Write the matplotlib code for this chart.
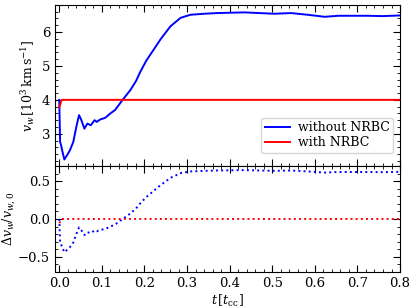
"""Wind velocity with and without non-reflecting boundary conditions."""

import matplotlib.pyplot as plt
import numpy as np
from matplotlib.ticker import MultipleLocator

plt.rcParams["font.family"] = "DejaVu Serif"
plt.rcParams["mathtext.fontset"] = "dejavuserif"
plt.rcParams["font.size"] = 9

# Time in t_cc, velocity in 10^3 km/s
t_without = [0.0, 0.002, 0.004, 0.007, 0.012, 0.018, 0.025, 0.033, 0.040,
             0.0465, 0.052, 0.059, 0.066, 0.074, 0.083, 0.088, 0.096, 0.108,
             0.12, 0.131, 0.147, 0.167, 0.18, 0.19, 0.204, 0.22, 0.238,
             0.261, 0.285, 0.308, 0.34, 0.371, 0.434, 0.505, 0.544, 0.583,
             0.623, 0.655, 0.725, 0.76, 0.80]
v_without = [4.0, 2.76, 2.68, 2.5, 2.24, 2.36, 2.51, 2.76, 3.2,
             3.55, 3.4, 3.15, 3.3, 3.25, 3.4, 3.35, 3.42, 3.47,
             3.6, 3.7, 3.97, 4.29, 4.55, 4.82, 5.15, 5.45, 5.79,
             6.17, 6.42, 6.51, 6.54, 6.56, 6.58, 6.54, 6.56, 6.51,
             6.45, 6.48, 6.48, 6.47, 6.49]
t_with = [0.0, 0.002, 0.005, 0.008, 0.80]
v_with = [3.78, 3.85, 3.99, 4.0, 4.0]
v0 = 4.0

t_without = np.array(t_without)
v_without = np.array(v_without)
t_with = np.array(t_with)
v_with = np.array(v_with)

fig = plt.figure(figsize=(4.15, 3.08), dpi=100)
gs = fig.add_gridspec(2, 1, height_ratios=[161, 106], hspace=0.0,
                      left=0.1325, right=0.964, bottom=0.117, top=0.984)
ax_top = fig.add_subplot(gs[0])
ax_bot = fig.add_subplot(gs[1], sharex=ax_top)

ax_top.plot(t_without, v_without, color="#0000ff", lw=1.4, label="without NRBC")
ax_top.plot(t_with, v_with, color="#ff0000", lw=1.4, label="with NRBC")
ax_bot.plot(t_without, v_without / v0 - 1, color="#0000ff", lw=1.4, ls=":")
ax_bot.plot(t_with, v_with / v0 - 1, color="#ff0000", lw=1.4, ls=":")

ax_top.set_xlim(-0.01, 0.8)
ax_top.set_ylim(2.05, 6.8)
ax_bot.set_ylim(-0.7, 0.7)

ax_top.xaxis.set_major_locator(MultipleLocator(0.1))
ax_top.xaxis.set_minor_locator(MultipleLocator(0.02))
ax_top.yaxis.set_major_locator(MultipleLocator(1))
ax_top.yaxis.set_minor_locator(MultipleLocator(0.2))
ax_bot.yaxis.set_major_locator(MultipleLocator(0.5))
ax_bot.yaxis.set_minor_locator(MultipleLocator(0.1))

for ax in (ax_top, ax_bot):
    ax.tick_params(which="both", direction="in", top=True, right=True,
                   labelsize=9.5)
    ax.tick_params(which="major", length=5)
    ax.tick_params(which="minor", length=2.5)
ax_top.tick_params(labelbottom=False)

ax_top.set_ylabel(r"$v_w\,[10^3\,\mathrm{km\,s^{-1}}]$", labelpad=3)
ax_bot.set_ylabel(r"$\Delta v_w / v_{w,0}$", labelpad=0.5)
ax_bot.set_xlabel(r"$t\,[t_\mathrm{cc}]$", labelpad=2)

ax_top.legend(loc="lower right", bbox_to_anchor=(0.98, 0.08), borderaxespad=0,
              fontsize=9, handlelength=2.0, handletextpad=0.6,
              labelspacing=0.15, borderpad=0.3)

fig.savefig("out.png")
